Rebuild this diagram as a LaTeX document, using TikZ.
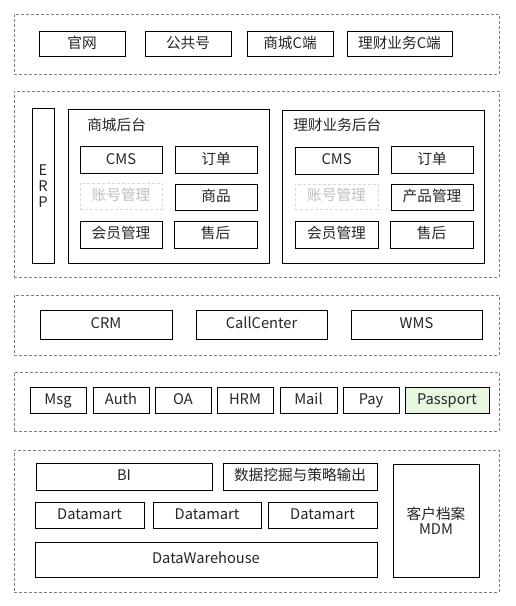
\documentclass[tikz,border=0pt]{standalone}
\usepackage{fontspec}
\setmainfont{Noto Sans CJK SC}
\begin{document}
\begin{tikzpicture}[x=0.75pt,y=-0.75pt,
  box/.style={draw=black,line width=0.75pt,fill=white,inner sep=0pt,text=black!85,font=\fontsize{11}{13}\selectfont},
  one/.style={text height=0.8em,text depth=0.2em},
  ghost/.style={draw=black!15,dash pattern=on 2.25pt off 1.5pt,text=black!25},
  green/.style={fill=green!50!olive!12!white},
  group/.style={draw=black!50,line width=0.6pt,dash pattern=on 2.25pt off 1.5pt},
  title/.style={inner sep=0pt,anchor=west,text=black!85,font=\fontsize{11}{13}\selectfont}]
\newcommand\bx[7][one]{\node[box,#1,minimum width={(#5-#3)*0.75pt},minimum height={(#6-#4)*0.75pt}] (#2) at ({(#3+#5)/2},{(#4+#6)/2}) {#7};}
\useasboundingbox[fill=white] (0,0) rectangle (515,606);
% groups
\node[group,inner sep=0pt,minimum width={485*0.75pt},minimum height={60*0.75pt}] (g1) at (256.5,44) {};
\node[group,inner sep=0pt,minimum width={485*0.75pt},minimum height={186*0.75pt}] (g2) at (256.5,184) {};
\node[group,inner sep=0pt,minimum width={485*0.75pt},minimum height={60*0.75pt}] (g3) at (256.5,325) {};
\node[group,inner sep=0pt,minimum width={485*0.75pt},minimum height={59*0.75pt}] (g4) at (256.5,401.5) {};
\node[group,inner sep=0pt,minimum width={485*0.75pt},minimum height={142*0.75pt}] (g5) at (256.5,521) {};
% layer 1
\bx{gw}{39}{32}{125}{57}{官网}
\bx{gzh}{145}{32}{231}{57}{公共号}
\bx{scc}{247}{32}{333}{57}{商城C端}
\bx{lcc}{347}{32}{452}{57}{理财业务C端}
% layer 2
\bx[]{erp}{32}{109}{54}{263}{\shortstack{E\\[1pt]R\\[1pt]P}}
\bx[]{scht}{68}{110}{269}{263}{}
\node[title] (t1) at (87,125) {商城后台};
\bx{cms1}{80}{147}{162}{173}{CMS}
\bx{dd1}{175}{147}{257}{173}{订单}
\bx[one,ghost]{zh1}{80}{183}{162}{209}{账号管理}
\bx{sp1}{175}{184}{257}{210}{商品}
\bx{hy1}{80}{221}{162}{248}{会员管理}
\bx{sh1}{174}{221}{257}{248}{售后}
\bx[]{lcht}{282}{111}{484}{263}{}
\node[title] (t2) at (293,125) {理财业务后台};
\bx{cms2}{295}{148}{378}{174}{CMS}
\bx{dd2}{391}{147}{473}{173}{订单}
\bx[one,ghost]{zh2}{295}{184}{378}{209}{账号管理}
\bx{cp2}{391}{184}{473}{210}{产品管理}
\bx{hy2}{295}{221}{378}{248}{会员管理}
\bx{sh2}{390}{221}{473}{248}{售后}
% layer 3
\bx{crm}{40}{310}{172}{339}{CRM}
\bx{cc}{196}{310}{327}{339}{CallCenter}
\bx{wms}{351}{310}{482}{339}{WMS}
% layer 4
\bx{msg}{30}{387}{86}{413}{Msg}
\bx{auth}{93}{387}{149}{413}{Auth}
\bx{oa}{155}{387}{211}{413}{OA}
\bx{hrm}{217}{387}{273}{413}{HRM}
\bx{mail}{280}{387}{337}{413}{Mail}
\bx{pay}{343}{387}{399}{413}{Pay}
\bx[one,green]{pp}{405}{387}{489}{413}{Passport}
% layer 5
\bx{bi}{36}{463}{212}{490}{BI}
\bx{sj}{223}{463}{377}{490}{数据挖掘与策略输出}
\bx{dm1}{35}{502}{144}{528}{Datamart}
\bx{dm2}{153}{502}{261}{528}{Datamart}
\bx{dm3}{268}{502}{377}{528}{Datamart}
\bx{dw}{35}{542}{377}{577}{DataWarehouse}
\bx[]{mdm}{393}{464}{479}{577}{\shortstack{客户档案\\[-1pt]MDM}}
\end{tikzpicture}
\end{document}
